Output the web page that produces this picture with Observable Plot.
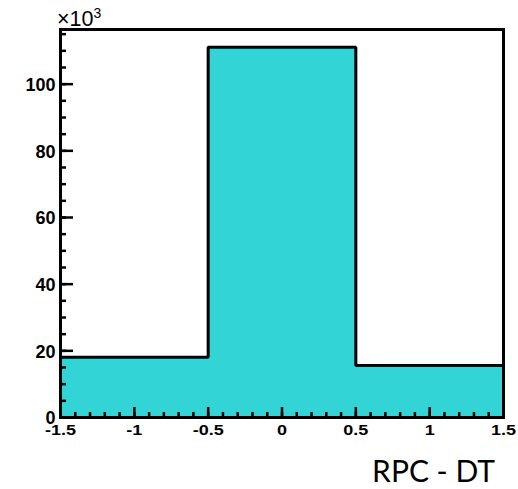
<!DOCTYPE html>
<html><head><meta charset="utf-8">
<script src="https://cdn.jsdelivr.net/npm/d3@7"></script>
<script src="https://cdn.jsdelivr.net/npm/@observablehq/plot@0.6"></script>
<style>body{margin:0;background:#fff} svg{display:block}</style>
</head><body><div id="chart"></div>
<script>
// Histogram data (counts in units of 10^3)
const binEdges = [-1.5, -0.5, 0.5, 1.5];
const counts = [18.1, 111.1, 15.6];
const xTickLabels = [-1.5, -1, -0.5, 0, 0.5, 1, 1.5];
const xMinorTicks = d3.range(-15, 16).map(i => i / 10);
const yTickLabels = [0, 20, 40, 60, 80, 100];
const yMinorTicks = d3.range(0, 116, 5);
const yMax = 116.4;
const xLabel = "RPC - DT";

const bins = counts.map((c, i) => ({x1: binEdges[i], x2: binEdges[i + 1], y: c}));
const steps = bins.flatMap(b => [{x: b.x1, y: b.y}, {x: b.x2, y: b.y}]);
const font = '"Liberation Sans", Arial, sans-serif';
const fillColor = "#32d4d6";

const chart = Plot.plot({
  width: 518, height: 489,
  marginLeft: 60, marginRight: 15, marginTop: 29, marginBottom: 72,
  style: {fontFamily: font, background: "white", color: "black"},
  x: {domain: [-1.5, 1.5]},
  y: {domain: [0, yMax]},
  marks: [
    Plot.rectY(bins, {x1: "x1", x2: "x2", y: "y", fill: fillColor, stroke: fillColor, strokeWidth: 1}),
    Plot.line(steps, {x: "x", y: "y", stroke: "black", strokeWidth: 3, strokeLinejoin: "miter"}),
    Plot.axisX({ticks: xMinorTicks, tickSize: -5, tickFormat: () => "", strokeWidth: 2.5, label: null}),
    Plot.axisX({ticks: xTickLabels, tickSize: -10, tickFormat: () => "", strokeWidth: 2.5, label: null}),
    Plot.axisY({ticks: yMinorTicks, tickSize: -6, tickFormat: () => "", strokeWidth: 2.5, label: null}),
    Plot.axisY({ticks: yTickLabels, tickSize: -13, tickFormat: () => "", strokeWidth: 2.5, label: null}),
    Plot.text(xTickLabels, {x: d => d, frameAnchor: "bottom", dy: 19, text: d => String(d),
      fontSize: 18, fontWeight: "bold", fill: "black"}),
    Plot.text(yTickLabels, {y: d => d, frameAnchor: "left", dx: -5, dy: 1, textAnchor: "end",
      text: d => String(d), fontSize: 18, fontWeight: "bold", fill: "black"}),
    Plot.frame({stroke: "black", strokeWidth: 3})
  ]
});
document.getElementById("chart").append(chart);

// squash x tick labels vertically like the reference
const groups = chart.querySelectorAll('g[aria-label="text"]');
if (groups.length) {
  groups[0].querySelectorAll("text").forEach(t => {
    const bb = t.getBBox();
    const cy = bb.y + bb.height / 2;
    const prev = t.getAttribute("transform") || "";
    t.setAttribute("transform", `${prev} translate(0,${cy}) scale(1,0.77) translate(0,${-cy})`);
  });
}

const svg = d3.select(chart);
const exp = svg.append("text").attr("x", 57).attr("y", 26).attr("text-anchor", "start")
  .style("font-family", font).style("font-size", "21.5px").attr("fill", "black");
exp.append("tspan").text("×10");
exp.append("tspan").style("font-size", "14px").attr("dy", -8).text("3");

svg.append("text").attr("x", 495).attr("y", 482).attr("text-anchor", "end")
  .style("font-family", "Lato, 'Open Sans', sans-serif").style("font-size", "30px")
  .attr("fill", "black").text(xLabel);
</script>
</body></html>
